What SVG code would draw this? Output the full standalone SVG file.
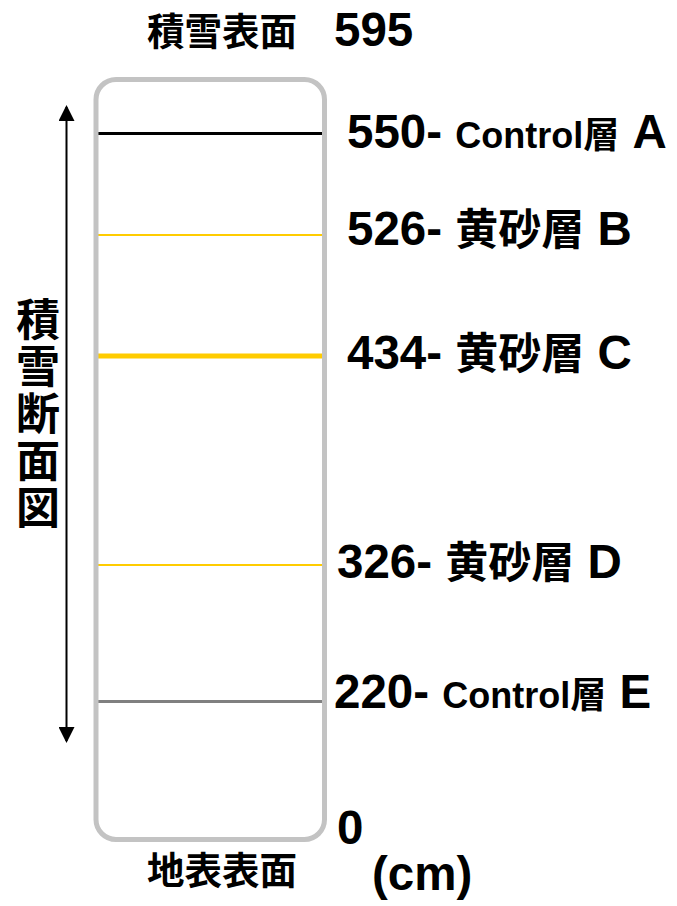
<svg xmlns="http://www.w3.org/2000/svg" width="677" height="906" viewBox="0 0 677 906">
<style>
text{font-family:"Liberation Sans","Noto Sans CJK JP",sans-serif;font-weight:bold;fill:#000}
.big{font-size:47.5px}
.mid{font-size:36px}
.cjk{font-size:43px}
.tit{font-size:37.5px}
.vt{font-size:44px;text-anchor:middle}
</style>
<defs>
<marker id="ah" viewBox="0 0 16 16" refX="14" refY="8" markerWidth="16" markerHeight="16" markerUnits="userSpaceOnUse" orient="auto-start-reverse">
<path d="M0,0 L16,8 L0,16 Z" fill="#000"/>
</marker>
</defs>
<rect width="677" height="906" fill="#fff"/>
<g id="connectors">
<line x1="66.5" y1="107" x2="66.5" y2="741" stroke="#000" stroke-width="2" marker-start="url(#ah)" marker-end="url(#ah)"/>
</g>
<g id="layers">
<line id="layerA" x1="96" y1="133.5" x2="325" y2="133.5" stroke="#000" stroke-width="3"/>
<line id="layerB" x1="96" y1="235" x2="325" y2="235" stroke="#FFCC00" stroke-width="2"/>
<line id="layerC" x1="96" y1="356" x2="325" y2="356" stroke="#FFCC00" stroke-width="5"/>
<line id="layerD" x1="96" y1="565" x2="325" y2="565" stroke="#FFCC00" stroke-width="2"/>
<line id="layerE" x1="94" y1="701.5" x2="325" y2="701.5" stroke="#808080" stroke-width="3"/>
</g>
<g id="column">
<rect x="96" y="79.5" width="228.5" height="760" rx="20" ry="20" fill="none" stroke="#C3C3C3" stroke-width="5"/>
</g>
<g id="top-label">
<text class="tit" x="147" y="45">積雪表面</text>
<text class="big" x="334" y="46">595</text>
</g>
<g id="label-A"><text x="347" y="148"><tspan class="big">550- </tspan><tspan class="mid">Control層</tspan><tspan class="big"> A</tspan></text></g>
<g id="label-B"><text x="347" y="245"><tspan class="big">526- </tspan><tspan class="cjk">黄砂層</tspan><tspan class="big"> B</tspan></text></g>
<g id="label-C"><text x="347" y="369"><tspan class="big">434- </tspan><tspan class="cjk">黄砂層</tspan><tspan class="big"> C</tspan></text></g>
<g id="label-D"><text x="337" y="578"><tspan class="big">326- </tspan><tspan class="cjk">黄砂層</tspan><tspan class="big"> D</tspan></text></g>
<g id="label-E"><text x="334" y="708"><tspan class="big">220- </tspan><tspan class="mid">Control層</tspan><tspan class="big"> E</tspan></text></g>
<g id="bottom-label">
<text class="big" x="337" y="844">0</text>
<text class="tit" x="147" y="884">地表表面</text>
<text class="big" x="372" y="890">(cm)</text>
</g>
<g id="side-title">
<text class="vt" x="38" y="336">積</text>
<text class="vt" x="38" y="383">雪</text>
<text class="vt" x="38" y="430">断</text>
<text class="vt" x="38" y="477">面</text>
<text class="vt" x="38" y="524">図</text>
</g>
</svg>
